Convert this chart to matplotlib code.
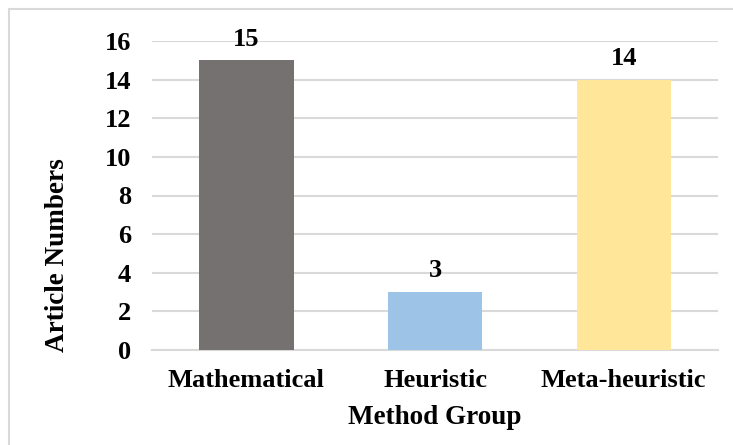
import matplotlib.pyplot as plt
from matplotlib.patches import Rectangle

groups = ['Mathematical', 'Heuristic', 'Meta-heuristic']
counts = [15, 3, 14]
colors = ['#767171', '#9DC3E6', '#FFE699']
yticks = [0, 2, 4, 6, 8, 10, 12, 14, 16]

plt.rcParams['font.family'] = ['Liberation Serif', 'DejaVu Serif']
plt.rcParams['font.weight'] = 'bold'

fig = plt.figure(figsize=(7.33, 4.45), dpi=100)
W, H = 733, 445
ax = fig.add_axes([152 / W, 1 - 350 / H, 566 / W, (350 - 41) / H])

# light frame around the chart area (left/top edges visible)
fig.patches.append(Rectangle((9 / W, -0.1), 1.2, 1 - 9 / H + 0.1,
                             transform=fig.transFigure, fill=False,
                             edgecolor='#D9D9D9', linewidth=1.5))

x = range(len(groups))
bars = ax.bar(x, counts, width=0.5, color=colors, zorder=3)
for b, v in zip(bars, counts):
    ax.text(b.get_x() + b.get_width() / 2, v + 0.5, str(v),
            ha='center', va='bottom', fontsize=19, fontweight='bold')

ax.set_xlim(-0.5, 2.5)
ax.set_ylim(0, 16)
ax.set_yticks(yticks)
ax.set_xticks(list(x))
ax.set_xticklabels(groups, fontsize=19, fontweight='bold')
ax.tick_params(axis='y', labelsize=19, length=0, pad=15)
ax.tick_params(axis='x', length=0, pad=14)
for lab in ax.get_yticklabels():
    lab.set_fontweight('bold')

ax.grid(axis='y', color='#D9D9D9', linewidth=1.5, zorder=0)
for s in ['top', 'right', 'left']:
    ax.spines[s].set_visible(False)
ax.spines['bottom'].set_color('#D9D9D9')
ax.spines['bottom'].set_linewidth(1.5)

ax.set_xlabel('Method Group', fontsize=19.5, fontweight='bold')
ax.xaxis.set_label_coords(0.5, -(405 - 350) / 309)
ax.set_ylabel('Article Numbers', fontsize=19.5, fontweight='bold')
ax.yaxis.set_label_coords((70 - 152) / 566, (350 - 255) / 309)

fig.savefig('out.png', dpi=100, facecolor='white')
